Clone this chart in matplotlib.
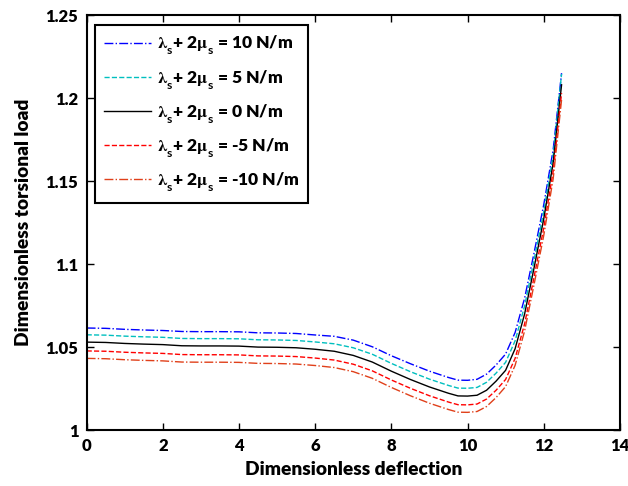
import matplotlib
matplotlib.use("Agg")
import matplotlib.pyplot as plt
import matplotlib._mathtext as _mt

plt.rcParams['font.family'] = ['Lato', 'DejaVu Sans']
plt.rcParams['font.weight'] = 'bold'
plt.rcParams['mathtext.fontset'] = 'custom'
plt.rcParams['mathtext.rm'] = 'Lato:bold'
plt.rcParams['mathtext.it'] = 'Lato:bold'
plt.rcParams['mathtext.bf'] = 'Lato:bold'
plt.rcParams['mathtext.sf'] = 'STIXGeneral'
plt.rcParams['mathtext.fallback'] = 'stix'
try:
    _mt.FontConstantsBase.sub1 = 0.75
    _mt.FontConstantsBase.sub2 = 0.9
except Exception:
    pass

x = [0, 0.5, 1, 1.5, 2, 2.5, 3, 3.5, 4, 4.5, 5, 5.5, 6, 6.5, 7, 7.5, 8, 8.5,
     9, 9.5, 9.75, 10, 10.25, 10.5, 10.75, 11, 11.25, 11.5, 11.75, 12, 12.25, 12.47]

y_p10 = [1.0615, 1.0613, 1.0607, 1.0603, 1.0600, 1.0594, 1.0593, 1.0593, 1.0592, 1.0586,
         1.0585, 1.0582, 1.0573, 1.0565, 1.0542, 1.0502, 1.0448, 1.0400, 1.0355, 1.0317,
         1.0301, 1.0300, 1.0306, 1.0337, 1.0392, 1.0458, 1.0588, 1.0795, 1.1070, 1.1355,
         1.1690, 1.2150]
y_p5 = [1.0574, 1.0572, 1.0566, 1.0562, 1.0559, 1.0552, 1.0551, 1.0551, 1.0550, 1.0544,
        1.0543, 1.0540, 1.0531, 1.0520, 1.0496, 1.0457, 1.0402, 1.0352, 1.0307, 1.0269,
        1.0253, 1.0252, 1.0257, 1.0288, 1.0343, 1.0408, 1.0538, 1.0748, 1.1027, 1.1315,
        1.1655, 1.2145]
y_0 = [1.0530, 1.0528, 1.0522, 1.0518, 1.0515, 1.0508, 1.0507, 1.0507, 1.0506, 1.0500,
       1.0499, 1.0496, 1.0487, 1.0475, 1.0450, 1.0410, 1.0355, 1.0305, 1.0260, 1.0222,
       1.0206, 1.0205, 1.0210, 1.0240, 1.0295, 1.0360, 1.0490, 1.0700, 1.0980, 1.1270,
       1.1610, 1.2080]
y_m5 = [1.0477, 1.0475, 1.0469, 1.0465, 1.0462, 1.0455, 1.0454, 1.0454, 1.0453, 1.0447,
        1.0446, 1.0443, 1.0434, 1.0422, 1.0397, 1.0357, 1.0302, 1.0252, 1.0207, 1.0169,
        1.0153, 1.0152, 1.0157, 1.0187, 1.0240, 1.0305, 1.0432, 1.0640, 1.0925, 1.1215,
        1.1560, 1.2030]
y_m10 = [1.0432, 1.0430, 1.0424, 1.0420, 1.0417, 1.0410, 1.0409, 1.0409, 1.0408, 1.0402,
         1.0401, 1.0398, 1.0389, 1.0377, 1.0352, 1.0312, 1.0257, 1.0207, 1.0162, 1.0124,
         1.0108, 1.0107, 1.0112, 1.0142, 1.0196, 1.0262, 1.0390, 1.0598, 1.0880, 1.1170,
         1.1515, 1.1990]

labels = [r'$\mathsf{\lambda}_s$+ 2$\mathsf{\mu}_s$ = 10 N/m',
          r'$\mathsf{\lambda}_s$+ 2$\mathsf{\mu}_s$ = 5 N/m',
          r'$\mathsf{\lambda}_s$+ 2$\mathsf{\mu}_s$ = 0 N/m',
          r'$\mathsf{\lambda}_s$+ 2$\mathsf{\mu}_s$ = -5 N/m',
          r'$\mathsf{\lambda}_s$+ 2$\mathsf{\mu}_s$ = -10 N/m']

x_ticks = [0, 2, 4, 6, 8, 10, 12, 14]
y_ticks = [1, 1.05, 1.1, 1.15, 1.2, 1.25]
y_ticklabels = ['1', '1.05', '1.1', '1.15', '1.2', '1.25']

fig = plt.figure(figsize=(6.28, 4.86), dpi=100)
ax = fig.add_axes([0.138, 0.115, 0.849, 0.854])

ax.plot(x, y_p10, color='#0000ff', linestyle='-.', lw=1.0, label=labels[0])
ax.plot(x, y_p5, color='#00bfbf', linestyle='--', lw=1.0, label=labels[1])
ax.plot(x, y_0, color='black', linestyle='-', lw=1.0, label=labels[2])
ax.plot(x, y_m5, color='#ff0000', linestyle='--', lw=1.0, label=labels[3])
ax.plot(x, y_m10, color='#e0401a', linestyle='-.', lw=1.0, label=labels[4])

ax.set_xlim(0, 14)
ax.set_ylim(1, 1.25)
ax.set_xticks(x_ticks)
ax.set_yticks(y_ticks)
ax.set_yticklabels(y_ticklabels)
ax.tick_params(direction='in', top=True, right=True, labelsize=12, width=1, length=5, pad=6)
for lab in ax.get_xticklabels() + ax.get_yticklabels():
    lab.set_fontweight('heavy')
for s in ax.spines.values():
    s.set_linewidth(1.5)

ax.set_xlabel('Dimensionless deflection', fontsize=13.8, fontweight='heavy', labelpad=5)
ax.set_ylabel('Dimensionless torsional load', fontsize=13.8, fontweight='heavy', labelpad=10)

leg = ax.legend(loc='upper left', bbox_to_anchor=(0.0156, 0.976), borderaxespad=0,
                frameon=True, fancybox=False, edgecolor='black', framealpha=1,
                handlelength=2.7, labelspacing=0.6, borderpad=0.5, handletextpad=0.35,
                prop={'weight': 'heavy', 'size': 12.5})
leg.get_frame().set_linewidth(1.5)

fig.savefig('out.png', dpi=100)
